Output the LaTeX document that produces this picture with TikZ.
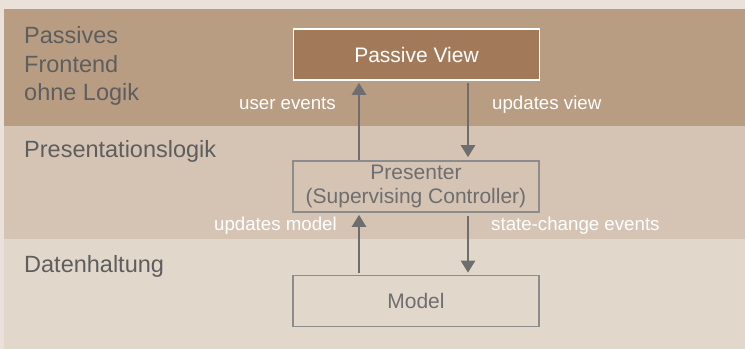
\documentclass[tikz,border=0pt]{standalone}
\usepackage{fontspec}
\setmainfont{Liberation Sans}
\usetikzlibrary{arrows.meta,calc}

\definecolor{pagebg}{HTML}{EAE2DA}
\definecolor{bandtop}{HTML}{B89D82}
\definecolor{bandmid}{HTML}{D5C4B4}
\definecolor{bandlow}{HTML}{E2D7CB}
\definecolor{viewfill}{HTML}{A27A5A}
\definecolor{boxline}{HTML}{8C8C8C}
\definecolor{boxtext}{HTML}{6E6E6E}
\definecolor{sidetext}{HTML}{5E5E5E}
\definecolor{arrowgray}{HTML}{6E6E6E}

\tikzset{
  layerlabel/.style={anchor=base west, inner sep=0pt, text=sidetext,
    font=\fontsize{23.5}{29}\selectfont, align=left},
  viewbox/.style={draw=white, line width=1.6pt, fill=viewfill, text=white,
    minimum width=246pt, minimum height=51pt, inner sep=0pt,
    font=\fontsize{21}{25}\selectfont},
  logicbox/.style={draw=boxline, line width=1.6pt, text=boxtext,
    minimum width=246pt, minimum height=51pt, inner sep=0pt, align=center,
    font=\fontsize{21}{25}\selectfont},
  flowlabel/.style={text=white, inner sep=0pt, font=\fontsize{18.7}{22}\selectfont},
  flow/.style={draw=arrowgray, line width=2.5pt,
    -{Triangle[width=14pt,length=12pt]}},
}

\begin{document}
\begin{tikzpicture}[x=1pt,y=-1pt]
  % page and the three layers
  \fill[pagebg] (0,0) rectangle (745,349);
  \useasboundingbox (0,0) rectangle (745,349);
  \fill[bandtop] (4,9) rectangle (745,126);
  \fill[bandmid] (4,126) rectangle (745,239);
  \fill[bandlow] (4,239) rectangle (745,349);

  % layer names
  \node[layerlabel] (lyrview) at (24,43) {Passives};
  \node[layerlabel] (lyrview2) at (24,72) {Frontend};
  \node[layerlabel] (lyrview3) at (24,100.5) {ohne Logik};
  \node[layerlabel] (lyrlogic) at (24,157) {Presentationslogik};
  \node[layerlabel] (lyrdata) at (24,272) {Datenhaltung};

  % components
  \node[viewbox] (pv) at (416.5,54.5) {Passive View};
  \node[logicbox] (pres) at (416,186.5) {Presenter\\[-1pt](Supervising Controller)};
  \node[logicbox] (model) at (416,301) {Model};

  % columns of the two flows
  \coordinate (up) at (359,0);
  \coordinate (down) at (468,0);

  \draw[flow, shorten >=2pt] (pres.north -| up) -- (pv.south -| up);
  \draw[flow, shorten <=2.5pt, shorten >=3pt] (pv.south -| down) -- (pres.north -| down);
  \draw[flow, shorten <=1.5pt, shorten >=2pt] (model.north -| up) -- (pres.south -| up);
  \draw[flow, shorten <=3pt, shorten >=2pt] (pres.south -| down) -- (model.north -| down);

  % flow labels
  \node[flowlabel, anchor=base east] (ue) at (336,109) {user events};
  \node[flowlabel, anchor=base west] (uv) at (492,109) {updates view};
  \node[flowlabel, anchor=base east] (um) at (337,230) {updates model};
  \node[flowlabel, anchor=base west] (sc) at (491,230) {state-change events};
\end{tikzpicture}
\end{document}
